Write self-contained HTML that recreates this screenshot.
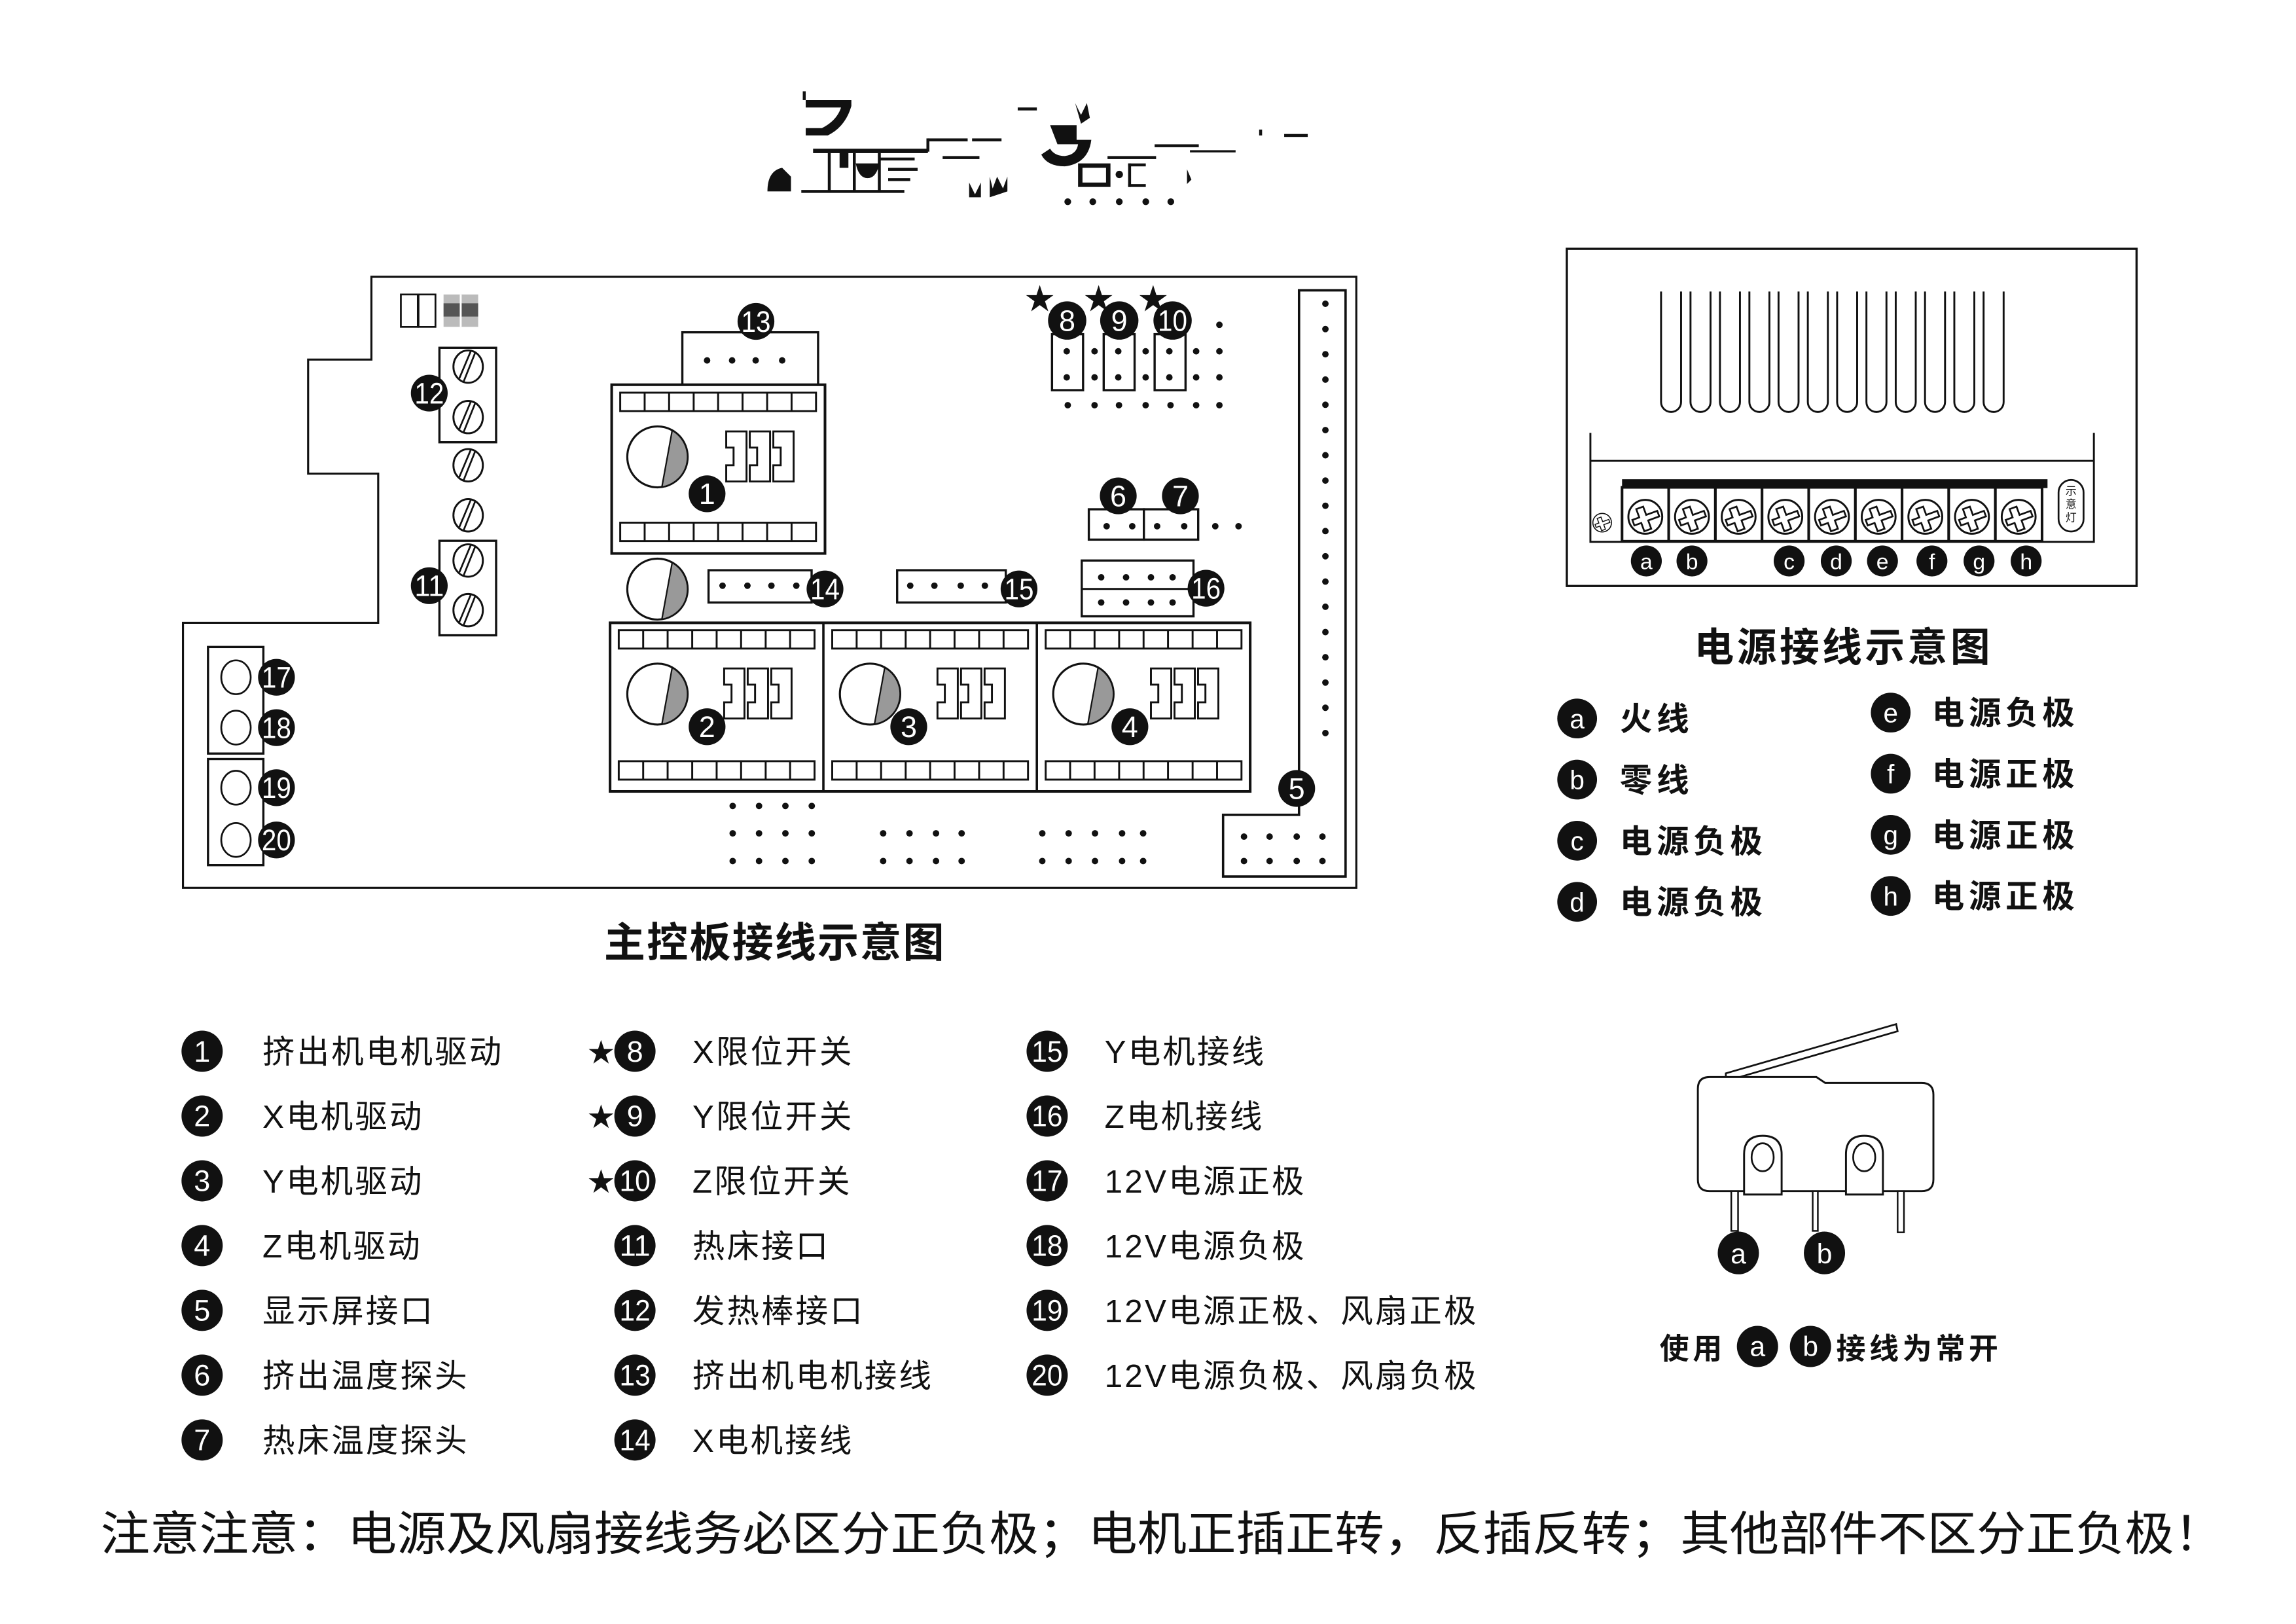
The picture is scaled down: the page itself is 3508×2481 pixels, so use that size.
<!DOCTYPE html>
<html><head><meta charset="utf-8"><style>
html,body{margin:0;padding:0;background:#fff;}
svg{display:block;}
.cj{font-family:"Liberation Sans","Noto Sans CJK SC",sans-serif;fill:#111;}
.n{font-family:"Liberation Sans Narrow","Liberation Sans",sans-serif;fill:#fff;text-anchor:middle;}
</style></head><body>
<svg width="3508" height="2481" viewBox="0 0 1559 1103" xmlns="http://www.w3.org/2000/svg">
<defs>
<g id="strip"><rect x="0" y="0" width="133" height="12.5" fill="#fff" stroke="#111" stroke-width="1.3"/>
<path d="M16.6 0v12.5M33.2 0v12.5M49.9 0v12.5M66.5 0v12.5M83.1 0v12.5M99.8 0v12.5M116.4 0v12.5" stroke="#111" stroke-width="1.3"/></g>
<g id="pot"><ellipse cx="0" cy="0" rx="20.5" ry="20.7" fill="#fff" stroke="#111" stroke-width="1.4"/>
<path d="M10 -18 A20.5 20.7 0 0 1 3 20.5 Z" fill="#999" stroke="#111" stroke-width="1"/></g>
<path id="jp" d="M0 0h13.8v34h-13.8v-11h5v-12h-5z" fill="#fff" stroke="#111" stroke-width="1.3"/>
<g id="jps"><use href="#jp"/><use href="#jp" x="16"/><use href="#jp" x="32"/></g>
<g id="scr"><ellipse cx="0" cy="0" rx="10" ry="11" fill="#fff" stroke="#111" stroke-width="1.3"/>
<path d="M-3 10 L5 -10 M-6 8 L2 -11" stroke="#111" stroke-width="1.2"/></g>
<g id="psc"><circle r="11.5" fill="#fff" stroke="#111" stroke-width="1.3"/>
<path d="M-9 3h5v6h5v-6h8v-4h-8v-6h-5v6h-5z" fill="#fff" stroke="#111" stroke-width="1.2" transform="rotate(-20)"/></g>
</defs>

<!-- logo fragments -->
<g fill="#111">
<path d="M547 68h31v4q-4 14-16 20h-15v-5h11q10-5 13-14h-24z"/>
<rect x="545" y="62" width="2" height="6"/>
<rect x="552" y="101" width="78" height="3"/>
<rect x="629" y="94" width="2" height="9"/><rect x="630" y="94" width="27" height="2"/>
<rect x="562" y="104" width="2" height="26"/><rect x="579" y="104" width="2" height="26"/><rect x="596" y="104" width="2" height="26"/>
<rect x="544" y="129" width="70" height="2"/>
<rect x="570" y="102" width="6" height="12"/>
<path d="M581 111h16q-2 10-8 10q-6 0-8-10z"/>
<rect x="597" y="107" width="24" height="2"/><rect x="603" y="114" width="20" height="2"/><rect x="603" y="121" width="15" height="2"/>
<path d="M521 130q0-14 10-16l6 6v10z"/>
<rect x="640" y="106" width="25" height="2"/><rect x="660" y="94" width="20" height="2"/>
<rect x="691" y="73" width="13" height="2"/>
<path d="M713 85h18v10h10q-2 16-18 18q-12 0-16-8l6-4q3 5 10 5q8-1 9-8h-14z"/>
<path d="M730 70l4 8 4-8 2 10-6 4z"/>
<rect x="752" y="106" width="33" height="2"/><rect x="784" y="98" width="30" height="2"/><rect x="808" y="102" width="31" height="1.5"/>
<path d="M732 111h22v16h-22zM735 114v10h16v-10z"/>
<circle cx="760" cy="118.5" r="2.5"/>
<rect x="766" y="111" width="12" height="2"/><rect x="766" y="111" width="2" height="16"/><rect x="766" y="125" width="12" height="2"/>
<path d="M658 124l4 8 4-8v10h-8z"/><path d="M672 120l2 8 3-8 4 8 3-8v10l-12 4z"/>
<rect x="872" y="91" width="16" height="2"/><rect x="855" y="88" width="2" height="4"/>
<path d="M806 115l3 7-3 3z"/>
<circle cx="725" cy="137" r="2.3"/><circle cx="742" cy="137" r="2.3"/><circle cx="760" cy="137" r="2.3"/><circle cx="778" cy="137" r="2.3"/><circle cx="795" cy="137" r="2.3"/>
</g>

<!-- main board -->
<path d="M252 188H921V603H124V423H256.6V321.7H209V244.2H252Z" fill="none" stroke="#111" stroke-width="1.4"/>
<rect x="272" y="200" width="11.5" height="22" fill="none" stroke="#111" stroke-width="1.2"/>
<rect x="284" y="200" width="11.5" height="22" fill="none" stroke="#111" stroke-width="1.2"/>
<rect x="301" y="200" width="23.5" height="22" fill="#bbb"/><rect x="301" y="206" width="23.5" height="9" fill="#555"/><rect x="312" y="200" width="1.3" height="22" fill="#fff"/>

<rect x="298.2" y="236.2" width="38.5" height="64.2" fill="none" stroke="#111" stroke-width="1.5"/>
<use href="#scr" x="317.7" y="249"/><use href="#scr" x="317.7" y="283.3"/>
<use href="#scr" x="317.7" y="316"/><use href="#scr" x="317.7" y="350"/>
<rect x="298.2" y="367.3" width="38.5" height="64.2" fill="none" stroke="#111" stroke-width="1.5"/>
<use href="#scr" x="317.7" y="380.7"/><use href="#scr" x="317.7" y="414.4"/>

<rect x="141" y="439.4" width="37.6" height="72.4" fill="none" stroke="#111" stroke-width="1.5"/>
<rect x="141" y="515.5" width="37.6" height="72.1" fill="none" stroke="#111" stroke-width="1.5"/>
<g fill="#fff" stroke="#111" stroke-width="1.2"><ellipse cx="160" cy="460" rx="10" ry="11.5"/><ellipse cx="160" cy="494.2" rx="10" ry="11.5"/><ellipse cx="160" cy="535" rx="10" ry="11.5"/><ellipse cx="160" cy="570.5" rx="10" ry="11.5"/></g>

<!-- 13 -->
<rect x="463.2" y="225.7" width="92.2" height="35.6" fill="#fff" stroke="#111" stroke-width="1.5"/>
<g fill="#111"><circle cx="480" cy="244.8" r="2.2"/><circle cx="497" cy="244.8" r="2.2"/><circle cx="513" cy="244.8" r="2.2"/><circle cx="531" cy="244.8" r="2.2"/></g>
<!-- module 1 -->
<rect x="415.2" y="261.3" width="144.9" height="114.6" fill="#fff" stroke="#111" stroke-width="1.8"/>
<use href="#strip" x="421" y="266.7"/><use href="#strip" x="421" y="355"/>
<use href="#pot" x="446.3" y="310.3"/><use href="#jps" x="493" y="293"/>
<!-- modules 2-4 -->
<rect x="414.1" y="423" width="434.8" height="114.5" fill="#fff" stroke="#111" stroke-width="1.8"/>
<path d="M559 423v114.5M704 423v114.5" stroke="#111" stroke-width="1.6"/>
<use href="#strip" x="420" y="428"/><use href="#strip" x="420" y="517"/>
<use href="#strip" x="565" y="428"/><use href="#strip" x="565" y="517"/>
<use href="#strip" x="710" y="428"/><use href="#strip" x="710" y="517"/>
<use href="#pot" x="446.3" y="471.4"/><use href="#pot" x="590.7" y="471.4"/><use href="#pot" x="735.6" y="471.4"/>
<use href="#jps" x="491.6" y="454"/><use href="#jps" x="636.5" y="454"/><use href="#jps" x="781.5" y="454"/>
<use href="#pot" x="446.3" y="400.1"/>
<!-- 14 15 16 -->
<rect x="481" y="387.3" width="70" height="21.9" fill="#fff" stroke="#111" stroke-width="1.5"/>
<rect x="609.1" y="387.3" width="73.8" height="21.9" fill="#fff" stroke="#111" stroke-width="1.5"/>
<rect x="734.5" y="380.7" width="75.9" height="37.9" fill="#fff" stroke="#111" stroke-width="1.5"/>
<path d="M734.5 400h75.9" stroke="#111" stroke-width="1.3"/>
<g fill="#111">
<circle cx="490.5" cy="397.8" r="2.2"/><circle cx="507.4" cy="397.8" r="2.2"/><circle cx="523.7" cy="397.8" r="2.2"/><circle cx="540.6" cy="397.8" r="2.2"/>
<circle cx="618" cy="397.8" r="2.2"/><circle cx="634.4" cy="397.8" r="2.2"/><circle cx="652.3" cy="397.8" r="2.2"/><circle cx="668.7" cy="397.8" r="2.2"/>
<circle cx="747.7" cy="392.1" r="2.2"/><circle cx="764.6" cy="392.1" r="2.2"/><circle cx="781.5" cy="392.1" r="2.2"/><circle cx="796.2" cy="392.1" r="2.2"/>
<circle cx="747.7" cy="409.2" r="2.2"/><circle cx="764.6" cy="409.2" r="2.2"/><circle cx="781.5" cy="409.2" r="2.2"/><circle cx="796.2" cy="409.2" r="2.2"/>
</g>
<!-- 6 7 -->
<rect x="739.3" y="345.9" width="37.4" height="20.6" fill="#fff" stroke="#111" stroke-width="1.5"/>
<rect x="776.7" y="345.9" width="36.9" height="20.6" fill="#fff" stroke="#111" stroke-width="1.5"/>
<g fill="#111"><circle cx="751.4" cy="357.4" r="2.2"/><circle cx="768.8" cy="357.4" r="2.2"/><circle cx="785.7" cy="357.4" r="2.2"/><circle cx="804.1" cy="357.4" r="2.2"/><circle cx="825.2" cy="357.4" r="2.2"/><circle cx="841" cy="357.4" r="2.2"/></g>
<!-- 8 9 10 -->
<g fill="#fff" stroke="#111" stroke-width="1.5"><rect x="714.3" y="227" width="21.1" height="38"/><rect x="749.4" y="227" width="21" height="38"/><rect x="784" y="227" width="21" height="38"/></g>
<g fill="#111">
<circle cx="724.3" cy="238.6" r="2.2"/><circle cx="759.3" cy="238.6" r="2.2"/><circle cx="794" cy="238.6" r="2.2"/>
<circle cx="724.3" cy="256.3" r="2.2"/><circle cx="759.3" cy="256.3" r="2.2"/><circle cx="794" cy="256.3" r="2.2"/>
<circle cx="743.2" cy="238.6" r="2.2"/><circle cx="777.9" cy="238.6" r="2.2"/><circle cx="812.2" cy="238.6" r="2.2"/><circle cx="828" cy="238.6" r="2.2"/>
<circle cx="743.2" cy="256.3" r="2.2"/><circle cx="777.9" cy="256.3" r="2.2"/><circle cx="812.2" cy="256.3" r="2.2"/><circle cx="828" cy="256.3" r="2.2"/>
<circle cx="828" cy="220.6" r="2.2"/>
<circle cx="725" cy="275.2" r="2.2"/><circle cx="743.2" cy="275.2" r="2.2"/><circle cx="759.8" cy="275.2" r="2.2"/><circle cx="777.9" cy="275.2" r="2.2"/><circle cx="794.8" cy="275.2" r="2.2"/><circle cx="812.2" cy="275.2" r="2.2"/><circle cx="828" cy="275.2" r="2.2"/>
</g>
<g class="cj" font-size="20" text-anchor="middle"><text x="706" y="210">★</text><text x="746" y="210">★</text><text x="783" y="210">★</text></g>
<!-- 5 strip -->
<path d="M882.1 197.2H913.7V595.3H830.5V553.4H882.1Z" fill="#fff" stroke="#111" stroke-width="1.6"/>
<g fill="#111">
<circle cx="900" cy="206.3" r="2.2"/><circle cx="900" cy="223.5" r="2.2"/><circle cx="900" cy="240.6" r="2.2"/><circle cx="900" cy="257.8" r="2.2"/><circle cx="900" cy="274.9" r="2.2"/><circle cx="900" cy="292.1" r="2.2"/><circle cx="900" cy="309.2" r="2.2"/><circle cx="900" cy="326.4" r="2.2"/><circle cx="900" cy="343.5" r="2.2"/><circle cx="900" cy="360.7" r="2.2"/><circle cx="900" cy="377.8" r="2.2"/><circle cx="900" cy="395" r="2.2"/><circle cx="900" cy="412.1" r="2.2"/><circle cx="900" cy="429.3" r="2.2"/><circle cx="900" cy="446.4" r="2.2"/><circle cx="900" cy="463.6" r="2.2"/><circle cx="900" cy="480.7" r="2.2"/><circle cx="900" cy="497.9" r="2.2"/>
<circle cx="844.7" cy="568.2" r="2.2"/><circle cx="862.1" cy="568.2" r="2.2"/><circle cx="880.5" cy="568.2" r="2.2"/><circle cx="898" cy="568.2" r="2.2"/>
<circle cx="844.7" cy="584.8" r="2.2"/><circle cx="862.1" cy="584.8" r="2.2"/><circle cx="880.5" cy="584.8" r="2.2"/><circle cx="898" cy="584.8" r="2.2"/>
<circle cx="497.4" cy="547.4" r="2.2"/><circle cx="515.3" cy="547.4" r="2.2"/><circle cx="533.2" cy="547.4" r="2.2"/><circle cx="551.1" cy="547.4" r="2.2"/>
<circle cx="497.4" cy="566" r="2.2"/><circle cx="515.3" cy="566" r="2.2"/><circle cx="533.2" cy="566" r="2.2"/><circle cx="551.1" cy="566" r="2.2"/>
<circle cx="497.4" cy="584.8" r="2.2"/><circle cx="515.3" cy="584.8" r="2.2"/><circle cx="533.2" cy="584.8" r="2.2"/><circle cx="551.1" cy="584.8" r="2.2"/>
<circle cx="599.6" cy="566" r="2.2"/><circle cx="617.5" cy="566" r="2.2"/><circle cx="635.5" cy="566" r="2.2"/><circle cx="652.9" cy="566" r="2.2"/>
<circle cx="599.6" cy="584.8" r="2.2"/><circle cx="617.5" cy="584.8" r="2.2"/><circle cx="635.5" cy="584.8" r="2.2"/><circle cx="652.9" cy="584.8" r="2.2"/>
<circle cx="707.7" cy="566" r="2.2"/><circle cx="725.6" cy="566" r="2.2"/><circle cx="743.5" cy="566" r="2.2"/><circle cx="761.9" cy="566" r="2.2"/><circle cx="776.2" cy="566" r="2.2"/>
<circle cx="707.7" cy="584.8" r="2.2"/><circle cx="725.6" cy="584.8" r="2.2"/><circle cx="743.5" cy="584.8" r="2.2"/><circle cx="761.9" cy="584.8" r="2.2"/><circle cx="776.2" cy="584.8" r="2.2"/>
</g>
<!-- board labels -->
<g fill="#111">
<circle cx="480" cy="335.4" r="12.5"/><circle cx="480" cy="493.6" r="12.5"/><circle cx="617" cy="493.6" r="12.5"/><circle cx="767.2" cy="493.6" r="12.5"/><circle cx="880.5" cy="535.5" r="12.5"/>
<circle cx="759.3" cy="336.8" r="12.5"/><circle cx="801.5" cy="336.8" r="12.5"/>
<circle cx="724.6" cy="217.7" r="13"/><circle cx="760" cy="217.7" r="13"/><circle cx="796.2" cy="217.7" r="13"/>
<circle cx="291.3" cy="267" r="12.5"/><circle cx="291.3" cy="397.8" r="12.5"/>
<circle cx="513.2" cy="218.3" r="12.5"/><circle cx="560.1" cy="400" r="12.5"/><circle cx="691.9" cy="400" r="12.5"/><circle cx="818.9" cy="399.5" r="12.5"/>
<circle cx="187.5" cy="460" r="12.5"/><circle cx="187.5" cy="494.2" r="12.5"/><circle cx="187.5" cy="535" r="12.5"/><circle cx="187.5" cy="570.5" r="12.5"/>
</g>
<g class="n" font-size="20">
<text x="480" y="342.4">1</text><text x="480" y="500.6">2</text><text x="617" y="500.6">3</text><text x="767.2" y="500.6">4</text><text x="880.5" y="542.5">5</text>
<text x="759.3" y="343.8">6</text><text x="801.5" y="343.8">7</text>
<text x="724.6" y="224.7">8</text><text x="760" y="224.7">9</text><text x="796.2" y="224.7" textLength="20" lengthAdjust="spacingAndGlyphs">10</text>
<text x="291.3" y="274" textLength="20" lengthAdjust="spacingAndGlyphs">12</text><text x="291.3" y="404.8" textLength="20" lengthAdjust="spacingAndGlyphs">11</text>
<text x="513.2" y="225.3" textLength="20" lengthAdjust="spacingAndGlyphs">13</text><text x="560.1" y="407" textLength="20" lengthAdjust="spacingAndGlyphs">14</text><text x="691.9" y="407" textLength="20" lengthAdjust="spacingAndGlyphs">15</text><text x="818.9" y="406.5" textLength="20" lengthAdjust="spacingAndGlyphs">16</text>
<text x="187.5" y="467" textLength="20" lengthAdjust="spacingAndGlyphs">17</text><text x="187.5" y="501.2" textLength="20" lengthAdjust="spacingAndGlyphs">18</text><text x="187.5" y="542" textLength="20" lengthAdjust="spacingAndGlyphs">19</text><text x="187.5" y="577.5" textLength="20" lengthAdjust="spacingAndGlyphs">20</text>
</g>
<text class="cj" x="526" y="650" font-size="28" font-weight="bold" text-anchor="middle" letter-spacing="1">主控板接线示意图</text>

<!-- power supply -->
<rect x="1064" y="169" width="387" height="229" fill="none" stroke="#111" stroke-width="1.5"/>
<g fill="none" stroke="#111" stroke-width="1.3">
<path d="M1128 198V273a6.8 6.8 0 0 0 13.6 0V198"/><path d="M1148 198V273a6.8 6.8 0 0 0 13.6 0V198"/><path d="M1168 198V273a6.8 6.8 0 0 0 13.6 0V198"/><path d="M1188 198V273a6.8 6.8 0 0 0 13.6 0V198"/><path d="M1207.8 198V273a6.8 6.8 0 0 0 13.6 0V198"/><path d="M1227.7 198V273a6.8 6.8 0 0 0 13.6 0V198"/><path d="M1247.6 198V273a6.8 6.8 0 0 0 13.6 0V198"/><path d="M1267.5 198V273a6.8 6.8 0 0 0 13.6 0V198"/><path d="M1287.4 198V273a6.8 6.8 0 0 0 13.6 0V198"/><path d="M1307.3 198V273a6.8 6.8 0 0 0 13.6 0V198"/><path d="M1327.2 198V273a6.8 6.8 0 0 0 13.6 0V198"/><path d="M1347.1 198V273a6.8 6.8 0 0 0 13.6 0V198"/>
<path d="M1080 294V368H1422V294M1080 313H1422"/>
</g>
<rect x="1101.5" y="325.5" width="289" height="6" fill="#111"/>
<g fill="#fff" stroke="#111" stroke-width="1.8"><rect x="1101.5" y="331" width="31.7" height="36.6"/><rect x="1133.2" y="331" width="31.7" height="36.6"/><rect x="1164.9" y="331" width="31.7" height="36.6"/><rect x="1196.6" y="331" width="31.7" height="36.6"/><rect x="1228.3" y="331" width="31.7" height="36.6"/><rect x="1260" y="331" width="31.7" height="36.6"/><rect x="1291.7" y="331" width="31.7" height="36.6"/><rect x="1323.4" y="331" width="31.7" height="36.6"/><rect x="1355.1" y="331" width="31.7" height="36.6"/></g>
<use href="#psc" x="1117.3" y="351"/><use href="#psc" x="1149" y="351"/><use href="#psc" x="1180.7" y="351"/><use href="#psc" x="1212.4" y="351"/><use href="#psc" x="1244.1" y="351"/><use href="#psc" x="1275.8" y="351"/><use href="#psc" x="1307.5" y="351"/><use href="#psc" x="1339.2" y="351"/><use href="#psc" x="1370.9" y="351"/>
<g transform="translate(1088 355) scale(0.55)"><use href="#psc"/></g>
<rect x="1398" y="326" width="17" height="35" rx="8.5" fill="#fff" stroke="#111" stroke-width="1.2"/>
<g class="cj" font-size="7.5" text-anchor="middle"><text x="1406.5" y="336">示</text><text x="1406.5" y="345">意</text><text x="1406.5" y="354">灯</text></g>
<g fill="#111"><circle cx="1118" cy="381" r="10.5"/><circle cx="1149" cy="381" r="10.5"/><circle cx="1215" cy="381" r="10.5"/><circle cx="1247" cy="381" r="10.5"/><circle cx="1278.4" cy="381" r="10.5"/><circle cx="1312" cy="381" r="10.5"/><circle cx="1344" cy="381" r="10.5"/><circle cx="1376" cy="381" r="10.5"/></g>
<g class="n" font-size="15"><text x="1118" y="386.5">a</text><text x="1149" y="386.5">b</text><text x="1215" y="386.5">c</text><text x="1247" y="386.5">d</text><text x="1278.4" y="386.5">e</text><text x="1312" y="386.5">f</text><text x="1344" y="386.5">g</text><text x="1376" y="386.5">h</text></g>
<text class="cj" x="1252" y="449" font-size="27" font-weight="bold" text-anchor="middle" letter-spacing="2">电源接线示意图</text>
<g fill="#111"><circle cx="1071" cy="488" r="13.5"/><circle cx="1071" cy="529.5" r="13.5"/><circle cx="1071" cy="571" r="13.5"/><circle cx="1071" cy="612.5" r="13.5"/>
<circle cx="1284" cy="484" r="13.5"/><circle cx="1284" cy="525.5" r="13.5"/><circle cx="1284" cy="567" r="13.5"/><circle cx="1284" cy="608.5" r="13.5"/></g>
<g class="n" font-size="18"><text x="1071" y="494.5">a</text><text x="1071" y="536">b</text><text x="1071" y="577.5">c</text><text x="1071" y="619">d</text>
<text x="1284" y="490.5">e</text><text x="1284" y="532">f</text><text x="1284" y="573.5">g</text><text x="1284" y="615">h</text></g>
<g class="cj" font-size="22" font-weight="bold" letter-spacing="3">
<text x="1100" y="496">火线</text><text x="1100" y="537.5">零线</text><text x="1100" y="579">电源负极</text><text x="1100" y="620.5">电源负极</text>
<text x="1312" y="492">电源负极</text><text x="1312" y="533.5">电源正极</text><text x="1312" y="575">电源正极</text><text x="1312" y="616.5">电源正极</text></g>

<!-- legend -->
<g fill="#111">
<circle cx="137" cy="714" r="14"/><circle cx="137" cy="758" r="14"/><circle cx="137" cy="802" r="14"/><circle cx="137" cy="846" r="14"/><circle cx="137" cy="890" r="14"/><circle cx="137" cy="934" r="14"/><circle cx="137" cy="978" r="14"/>
<circle cx="431" cy="714" r="14"/><circle cx="431" cy="758" r="14"/><circle cx="431" cy="802" r="14"/><circle cx="431" cy="846" r="14"/><circle cx="431" cy="890" r="14"/><circle cx="431" cy="934" r="14"/><circle cx="431" cy="978" r="14"/>
<circle cx="711" cy="714" r="14"/><circle cx="711" cy="758" r="14"/><circle cx="711" cy="802" r="14"/><circle cx="711" cy="846" r="14"/><circle cx="711" cy="890" r="14"/><circle cx="711" cy="934" r="14"/>
</g>
<g class="n" font-size="20">
<text x="137" y="721">1</text><text x="137" y="765">2</text><text x="137" y="809">3</text><text x="137" y="853">4</text><text x="137" y="897">5</text><text x="137" y="941">6</text><text x="137" y="985">7</text>
<text x="431" y="721">8</text><text x="431" y="765">9</text><text x="431" y="809" textLength="21" lengthAdjust="spacingAndGlyphs">10</text><text x="431" y="853" textLength="21" lengthAdjust="spacingAndGlyphs">11</text><text x="431" y="897" textLength="21" lengthAdjust="spacingAndGlyphs">12</text><text x="431" y="941" textLength="21" lengthAdjust="spacingAndGlyphs">13</text><text x="431" y="985" textLength="21" lengthAdjust="spacingAndGlyphs">14</text>
<text x="711" y="721" textLength="21" lengthAdjust="spacingAndGlyphs">15</text><text x="711" y="765" textLength="21" lengthAdjust="spacingAndGlyphs">16</text><text x="711" y="809" textLength="21" lengthAdjust="spacingAndGlyphs">17</text><text x="711" y="853" textLength="21" lengthAdjust="spacingAndGlyphs">18</text><text x="711" y="897" textLength="21" lengthAdjust="spacingAndGlyphs">19</text><text x="711" y="941" textLength="21" lengthAdjust="spacingAndGlyphs">20</text>
</g>
<g class="cj" font-size="18"><text x="399" y="721">★</text><text x="399" y="765">★</text><text x="399" y="809">★</text></g>
<g class="cj" font-size="22" letter-spacing="1.4">
<text x="178" y="722">挤出机电机驱动</text><text x="178" y="766">X电机驱动</text><text x="178" y="810">Y电机驱动</text><text x="178" y="854">Z电机驱动</text><text x="178" y="898">显示屏接口</text><text x="178" y="942">挤出温度探头</text><text x="178" y="986">热床温度探头</text>
<text x="470" y="722">X限位开关</text><text x="470" y="766">Y限位开关</text><text x="470" y="810">Z限位开关</text><text x="470" y="854">热床接口</text><text x="470" y="898">发热棒接口</text><text x="470" y="942">挤出机电机接线</text><text x="470" y="986">X电机接线</text>
<text x="750" y="722">Y电机接线</text><text x="750" y="766">Z电机接线</text><text x="750" y="810">12V电源正极</text><text x="750" y="854">12V电源负极</text><text x="750" y="898">12V电源正极、风扇正极</text><text x="750" y="942">12V电源负极、风扇负极</text>
</g>

<!-- switch -->
<path d="M1172 731.5V729L1287.7 695.6L1288.7 700.4L1181.4 731.5Z" fill="#fff" stroke="#111" stroke-width="1.2"/>
<path d="M1161 731.5H1233.5L1239.5 735.5H1305Q1313 735.5 1313 743.5V801Q1313 809 1305 809H1161Q1153 809 1153 801V739.5Q1153 731.5 1161 731.5Z" fill="#fff" stroke="#111" stroke-width="1.3"/>
<path d="M1184.4 811.3V784Q1184.4 771.4 1197 771.4Q1209.9 771.4 1209.9 784V811.3Z" fill="#fff" stroke="#111" stroke-width="1.3"/>
<path d="M1253.6 811.3V784Q1253.6 771.4 1266 771.4Q1278.7 771.4 1278.7 784V811.3Z" fill="#fff" stroke="#111" stroke-width="1.3"/>
<ellipse cx="1197" cy="786" rx="7.5" ry="9.5" fill="none" stroke="#111" stroke-width="1.2"/>
<ellipse cx="1266" cy="786" rx="7.5" ry="9.5" fill="none" stroke="#111" stroke-width="1.2"/>
<g fill="#fff" stroke="#111" stroke-width="1.1"><rect x="1175.7" y="809" width="4.6" height="27"/><rect x="1231" y="809" width="3.5" height="27"/><rect x="1288.7" y="809" width="4.3" height="28"/></g>
<g fill="#111"><ellipse cx="1180.5" cy="851" rx="14" ry="14.5"/><ellipse cx="1239" cy="851" rx="14" ry="14.5"/><ellipse cx="1193.5" cy="914.5" rx="14" ry="14"/><ellipse cx="1229.5" cy="914.5" rx="14" ry="14"/></g>
<g class="n" font-size="19"><text x="1180.5" y="858">a</text><text x="1239" y="858">b</text><text x="1193.5" y="921">a</text><text x="1229.5" y="921">b</text></g>
<g class="cj" font-size="20" font-weight="bold" letter-spacing="2.5"><text x="1127" y="923">使用</text><text x="1247" y="923">接线为常开</text></g>

<text class="cj" x="68" y="1053" font-size="32" textLength="1442" lengthAdjust="spacingAndGlyphs">注意注意：电源及风扇接线务必区分正负极；电机正插正转，反插反转；其他部件不区分正负极！</text>
</svg>
</body></html>
